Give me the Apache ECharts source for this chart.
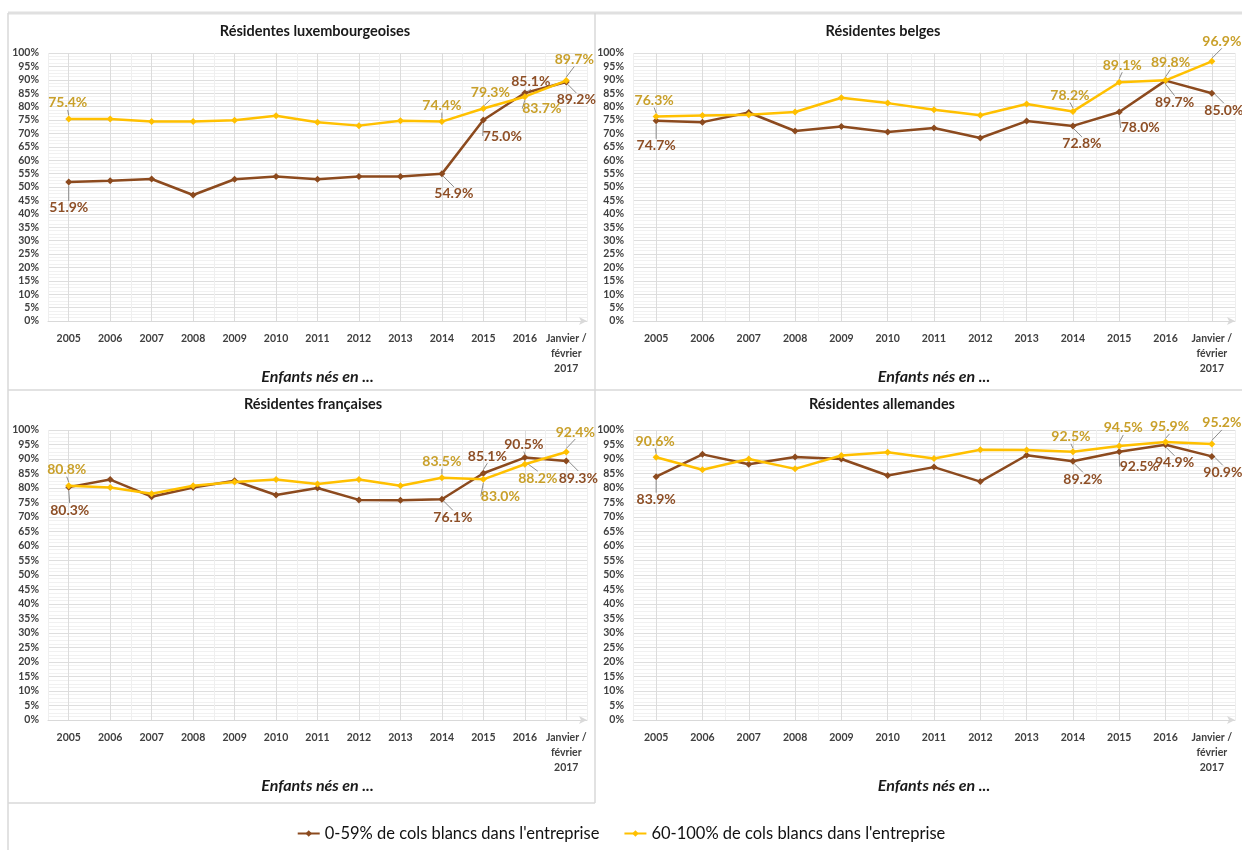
<!DOCTYPE html>
<html>
<head>
<meta charset="utf-8">
<script src="https://cdn.jsdelivr.net/npm/echarts@6/dist/echarts.min.js"></script>
<style>
  html, body { margin: 0; padding: 0; background: #ffffff; }
  #chart { width: 1242px; height: 850px; }
</style>
</head>
<body>
<div id="chart"></div>
<script>
// Categories (birth years of the children)
const categories = ['2005', '2006', '2007', '2008', '2009', '2010', '2011', '2012', '2013', '2014', '2015', '2016', 'Janvier /\nfévrier\n2017'];

const seriesNames = ["0-59% de cols blancs dans l'entreprise", "60-100% de cols blancs dans l'entreprise"];
const panelTitles = ['Résidentes luxembourgeoises', 'Résidentes belges', 'Résidentes françaises', 'Résidentes allemandes'];
const xAxisTitle = 'Enfants nés en ...';

// Y scale (percent)
const yMin = 0;
const yMax = 100;
const yStep = 5;

// Share (%) per residence group, low vs high white-collar share in the company
const luxLow  = [51.9, 52.3, 53.0, 47.0, 52.9, 53.9, 52.9, 53.9, 53.9, 54.9, 75.0, 85.1, 89.2];
const luxHigh = [75.4, 75.4, 74.4, 74.4, 74.9, 76.6, 74.2, 72.9, 74.7, 74.4, 79.3, 83.7, 89.7];
const belLow  = [74.7, 74.2, 77.8, 70.9, 72.6, 70.5, 72.0, 68.3, 74.6, 72.8, 78.0, 89.7, 85.0];
const belHigh = [76.3, 76.7, 77.0, 78.0, 83.3, 81.3, 78.8, 76.8, 81.0, 78.2, 89.1, 89.8, 96.9];
const fraLow  = [80.3, 82.9, 77.0, 80.2, 82.5, 77.6, 80.0, 75.9, 75.8, 76.1, 85.1, 90.5, 89.3];
const fraHigh = [80.8, 80.2, 78.0, 80.8, 82.1, 82.9, 81.4, 82.9, 80.8, 83.5, 83.0, 88.2, 92.4];
const deLow   = [83.9, 91.6, 88.2, 90.7, 90.0, 84.3, 87.2, 82.2, 91.3, 89.2, 92.5, 94.9, 90.9];
const deHigh  = [90.6, 86.3, 90.0, 86.6, 91.2, 92.3, 90.2, 93.2, 93.1, 92.5, 94.5, 95.9, 95.2];

// ---- styling / layout ----
const FONT = 'Lato, "Open Sans", sans-serif';
const BROWN = '#8c4a1e';
const BROWN_TXT = '#8e4f26';
const GOLD = '#ffc000';
const GOLD_TXT = '#c9a02a';
const AXIS_TXT = '#404040';

// Plot rectangles: [left, top, width, height]
const plots = [
  [48, 53, 539, 268],
  [633, 53, 602, 268],
  [48, 430, 539, 290],
  [633, 430, 602, 290]
];
const titlePos = [[310, 19], [878, 19], [308, 392], [877, 392]];
const nameGaps = [48, 48, 58, 58];

// Callout offsets (label centre relative to the point), keyed by data index
const callouts = [
  [ {0: [0, 26], 9: [12, 20], 10: [19, 16], 11: [6, -11], 12: [10, 18]},
    {0: [-1, -16], 9: [0, -16], 10: [7, -16], 11: [17, 12], 12: [8, -21]} ],
  [ {0: [0, 25], 9: [9, 18], 10: [21, 16], 11: [9, 22], 12: [12, 17]},
    {0: [-2, -16], 9: [-3, -16], 10: [3, -17], 11: [5, -18], 12: [10, -20]} ],
  [ {0: [1, 23], 9: [11, 18], 10: [4, -17], 11: [-1, -13], 12: [12, 17]},
    {0: [-2, -16], 9: [0, -16], 10: [17, 17], 11: [13, 14], 12: [9, -20]} ],
  [ {0: [0, 23], 9: [10, 18], 10: [20, 15], 11: [9, 18], 12: [11, 16]},
    {0: [-1, -16], 9: [-2, -15], 10: [4, -18], 11: [4, -15], 12: [10, -21]} ]
];

const panelData = [[luxLow, luxHigh], [belLow, belHigh], [fraLow, fraHigh], [deLow, deHigh]];

const grids = [], xAxes = [], yAxes = [], series = [], titles = [];

plots.forEach((r, g) => {
  grids.push({ left: r[0], top: r[1], width: r[2], height: r[3], containLabel: false });

  // main category axis: labels, axis line, gridlines through the points
  xAxes.push({
    type: 'category', gridIndex: g, data: categories, boundaryGap: true,
    name: xAxisTitle, nameLocation: 'middle', nameGap: nameGaps[g], nameMoveOverlap: false,
    nameTextStyle: { fontFamily: FONT, fontSize: 16, fontWeight: 'bold', fontStyle: 'italic', color: '#1a1a1a' },
    axisLine: { show: true, symbol: ['none', 'arrow'], symbolSize: [6, 8], lineStyle: { color: '#d9d9d9', width: 1 } },
    axisTick: { show: false },
    axisLabel: { interval: 0, margin: 10, fontFamily: FONT, fontSize: 10.5, fontWeight: 'bold', color: AXIS_TXT, lineHeight: 15 },
    splitLine: { show: true, alignWithLabel: true, lineStyle: { color: '#dcdcdc', width: 1 } }
  });
  // companion axis: faint lines on category boundaries
  xAxes.push({
    type: 'category', gridIndex: g, data: categories, boundaryGap: true, position: 'top',
    axisLine: { show: false }, axisTick: { show: false }, axisLabel: { show: false },
    splitLine: { show: true, lineStyle: { color: '#efefef', width: 1 } }
  });

  yAxes.push({
    type: 'value', gridIndex: g, min: yMin, max: yMax, interval: yStep,
    axisLine: { show: false }, axisTick: { show: false },
    axisLabel: { formatter: '{value}%', margin: 9, fontFamily: FONT, fontSize: 10.5, fontWeight: 'bold', color: AXIS_TXT },
    splitLine: { show: true, lineStyle: { color: '#dedede', width: 1 } },
    minorTick: { show: false, splitNumber: 4 },
    minorSplitLine: { show: true, lineStyle: { color: '#f1f1f1', width: 1 } }
  });

  titles.push({
    text: panelTitles[g], left: titlePos[g][0], top: titlePos[g][1], textAlign: 'center',
    textStyle: { fontFamily: FONT, fontSize: 14.5, fontWeight: 'bold', color: '#1a1a1a' }
  });

  [0, 1].forEach(s => {
    const offsets = callouts[g][s];
    const color = s === 0 ? BROWN : GOLD;
    series.push({
      type: 'line', name: seriesNames[s], xAxisIndex: g * 2, yAxisIndex: g,
      data: panelData[g][s].map((v, i) => offsets[i] ? { value: v, label: { show: true } } : v),
      symbol: 'diamond', symbolSize: 7, showSymbol: true,
      lineStyle: { color: color, width: 2.5 },
      itemStyle: { color: color },
      label: {
        show: false, color: s === 0 ? BROWN_TXT : GOLD_TXT,
        fontFamily: FONT, fontSize: 14, fontWeight: 'bold',
        formatter: p => p.value.toFixed(1) + '%'
      },
      labelLine: { show: true, lineStyle: { color: '#8c8c8c', width: 1 } },
      labelLayout: p => {
        const o = offsets[p.dataIndex];
        if (!o) return {};
        return {
          x: p.rect.x + p.rect.width / 2 + o[0],
          y: p.rect.y + p.rect.height / 2 + o[1],
          align: 'center', verticalAlign: 'middle'
        };
      },
      emphasis: { disabled: true },
      z: 3 + s
    });
  });
});

// panel frames
const frameStyle = { stroke: '#d9d9d9', lineWidth: 1.5 };
const frames = [
  { type: 'line', shape: { x1: 8, y1: 13, x2: 1242, y2: 13 }, style: { stroke: '#e0e0e0', lineWidth: 3 } },
  { type: 'line', shape: { x1: 8, y1: 13, x2: 8, y2: 850 }, style: frameStyle },
  { type: 'line', shape: { x1: 595, y1: 13, x2: 595, y2: 803 }, style: frameStyle },
  { type: 'line', shape: { x1: 8, y1: 390, x2: 1242, y2: 390 }, style: frameStyle },
  { type: 'line', shape: { x1: 8, y1: 803, x2: 595, y2: 803 }, style: frameStyle }
];

const chart = echarts.init(document.getElementById('chart'), null, { renderer: 'canvas' });
chart.setOption({
  animation: false,
  backgroundColor: '#ffffff',
  title: titles,
  grid: grids,
  xAxis: xAxes,
  yAxis: yAxes,
  series: series,
  graphic: frames,
  legend: {
    data: seriesNames, left: 'center', top: 820, itemGap: 24,
    itemWidth: 22, itemHeight: 8,
    textStyle: { fontFamily: FONT, fontSize: 16.5, color: '#111111' }
  }
});
</script>
</body>
</html>
